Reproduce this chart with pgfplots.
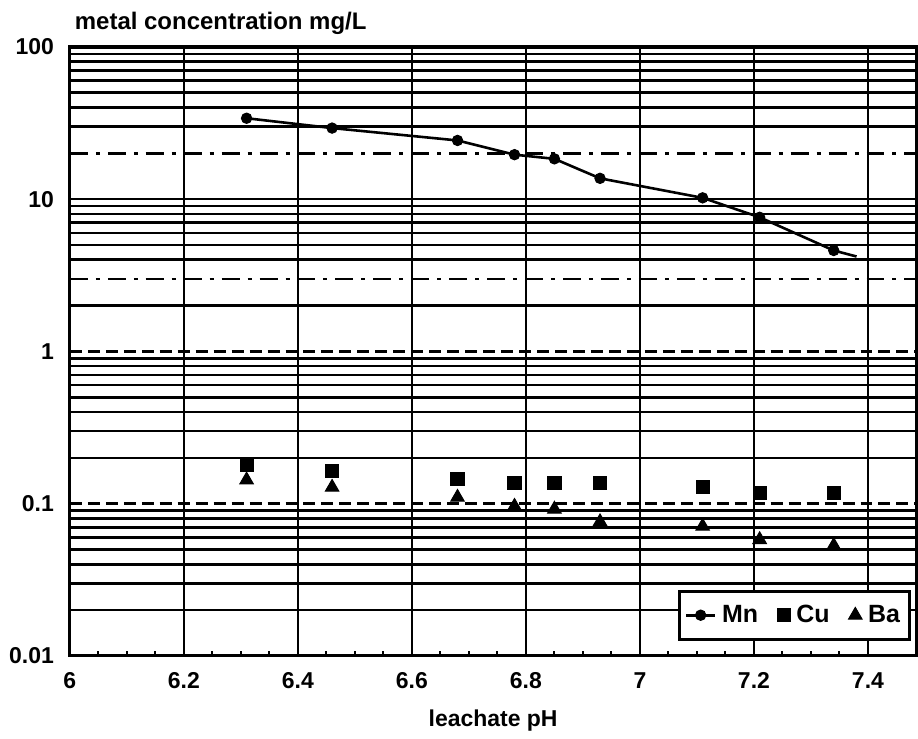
\documentclass[border=0pt]{standalone}
\usepackage{fontspec}
\setmainfont{Liberation Sans}
\usepackage{pgfplots}
\pgfplotsset{compat=1.18}
\begin{document}
\begin{tikzpicture}
% overlay axis carrying only the dash-dotted grid lines at 3 and 20
\begin{semilogyaxis}[
  scale only axis, width=424pt, height=305pt,
  xmin=6, xmax=7.485, ymin=0.01, ymax=100,
  xtick=\empty, ytick={3,20}, yticklabels={},
  major tick length=0pt, axis line style={draw=none},
  ymajorgrids,
  y grid style={black, line width=1.2pt, dash pattern=on 9pt off 4pt on 2pt off 4pt},
]
\addplot[draw=none, forget plot] coordinates {(6,1)};
\end{semilogyaxis}
\begin{semilogyaxis}[
  name=ax,
  scale only axis, width=424pt, height=305pt,
  xmin=6, xmax=7.485, ymin=0.01, ymax=100,
  /pgf/number format/assume math mode=true,
  font=\bfseries\fontsize{11.5}{13}\selectfont,
  xtick={6,6.2,6.4,6.6,6.8,7,7.2,7.4},
  xticklabels={6,6.2,6.4,6.6,6.8,7,7.2,7.4},
  minor x tick num=3,
  ytick={0.01,10,100},
  yticklabels={0.01,10,100},
  extra y ticks={0.1,1},
  extra y tick labels={0.1,1},
  extra y tick style={major grid style={dash pattern=on 6pt off 3pt}},
  minor ytick={0.02,0.03,0.04,0.05,0.06,0.07,0.08,0.09,0.2,0.3,0.4,0.5,0.6,0.7,0.8,0.9,2,4,5,6,7,8,9,30,40,50,60,70,80,90},
  tick pos=left,
  tick align=inside,
  major tick length=0pt,
  minor tick length=2.5pt,
  tick style={black, line width=1pt},
  xmajorgrids, ymajorgrids, yminorgrids,
  x grid style={black, line width=1.1pt},
  y grid style={black, line width=1.3pt},
  axis line style={black, line width=1.6pt},
  xticklabel style={anchor=center, yshift=-12.5pt},
  yticklabel style={anchor=east, xshift=-4.5pt},
  xlabel={leachate pH},
  xlabel style={at={(axis description cs:0.5,0)}, anchor=center, yshift=-32.5pt, font=\bfseries\fontsize{11.5}{13}\selectfont},
  legend columns=3,
  legend style={at={(1,0)}, anchor=south east, xshift=-2.5pt, yshift=7.5pt,
    draw=black, line width=1.5pt, inner xsep=3pt, inner ysep=5pt,
    font=\bfseries\fontsize{12.5}{14}\selectfont,
    /tikz/every even column/.append style={column sep=7.5pt},
    /tikz/every odd column/.append style={column sep=1pt}},
  legend cell align=left,
  legend image code/.code={\draw[mark indices={2}] plot coordinates {(0cm,0cm) (0.25cm,0cm) (0.5cm,0cm)};},
]
\addplot[black, line width=1.3pt, mark=*, mark size=2.6pt,
  mark indices={1,2,3,4,5,6,7,8,9}, mark options={solid, line width=0.5pt}]
  coordinates {(6.31,34) (6.46,29.3) (6.68,24.3) (6.78,19.6) (6.85,18.4)
               (6.93,13.7) (7.11,10.2) (7.21,7.6) (7.34,4.6) (7.38,4.2)};
\addlegendentry{Mn}
\addplot[black, only marks, mark=square*, mark size=3.3pt, mark options={line width=0.5pt}]
  coordinates {(6.31,0.179) (6.46,0.164) (6.68,0.146) (6.78,0.136) (6.85,0.136)
               (6.93,0.136) (7.11,0.128) (7.21,0.117) (7.34,0.117)};
\addlegendentry{Cu}
\addplot[black, only marks, mark=triangle*, mark size=3.9pt, mark options={line width=0.5pt}]
  coordinates {(6.31,0.143) (6.46,0.128) (6.68,0.110) (6.78,0.096) (6.85,0.092)
               (6.93,0.076) (7.11,0.071) (7.21,0.058) (7.34,0.053)};
\addlegendentry{Ba}
\end{semilogyaxis}
\node[anchor=base west, font=\bfseries\fontsize{12}{14}\selectfont, xshift=-1pt, yshift=8.5pt] at (ax.north west) {metal concentration mg/L};
\path ([xshift=-35pt,yshift=-41pt]ax.south west) rectangle ([yshift=23.5pt]ax.north east);
\end{tikzpicture}
\end{document}
